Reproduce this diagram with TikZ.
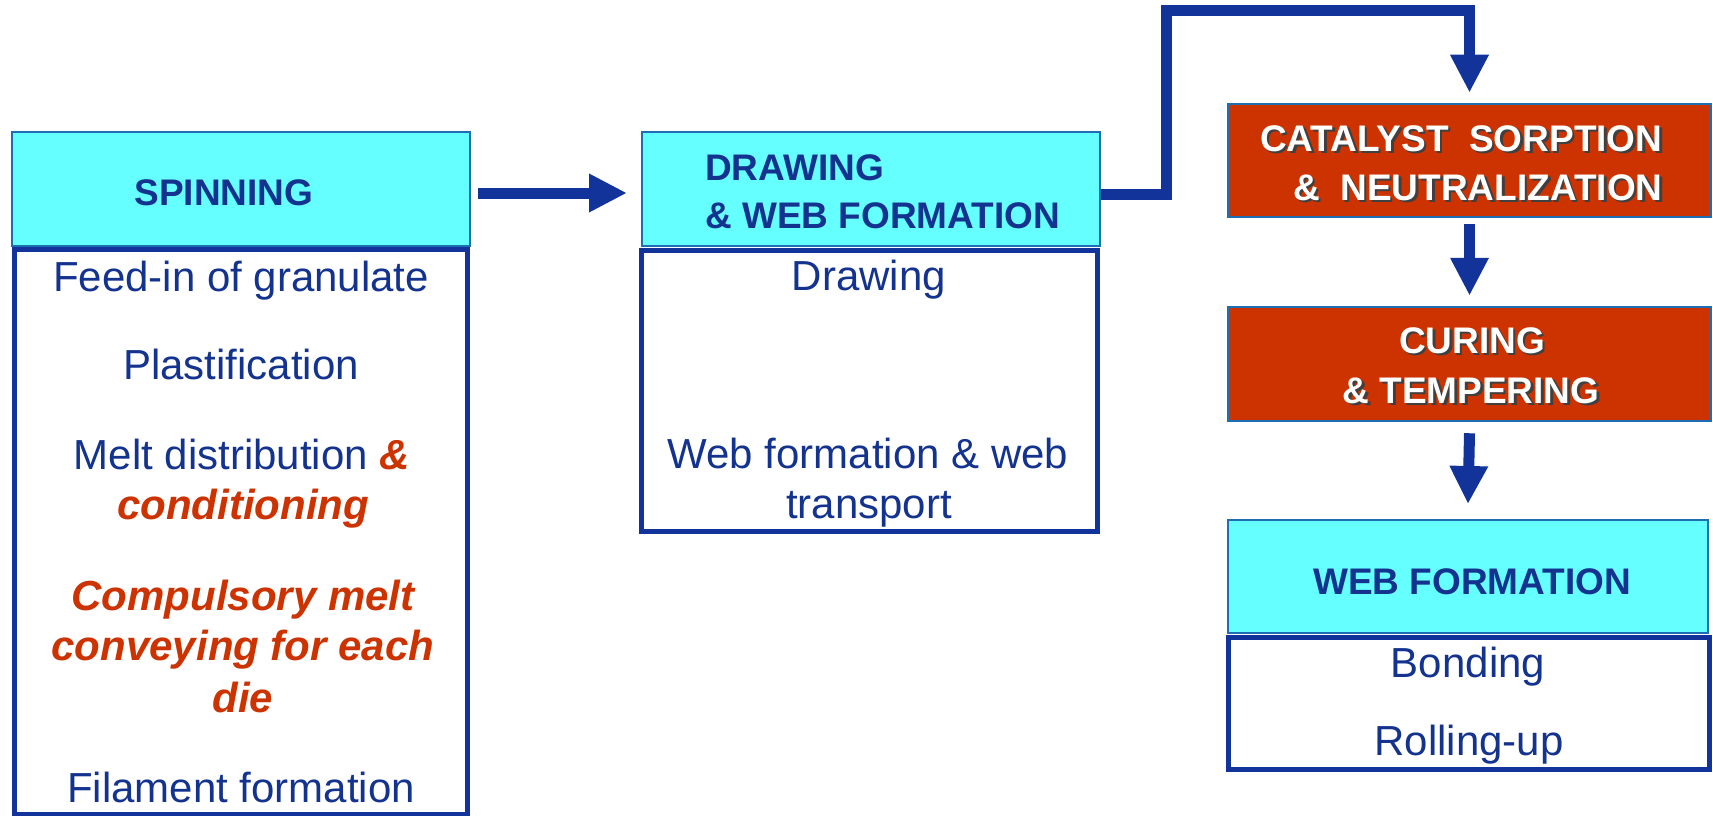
\documentclass[tikz,border=0pt]{standalone}
\usepackage{fontspec}
\setmainfont{Liberation Sans}[Ligatures=NoCommon]
\usetikzlibrary{arrows.meta}
\definecolor{cyanfill}{HTML}{66FFFF}
\definecolor{hdrline}{HTML}{1E6EB4}
\definecolor{bodyline}{HTML}{12339A}
\definecolor{textblue}{HTML}{14338F}
\definecolor{redtext}{HTML}{CC3300}
\definecolor{redfill}{HTML}{CC3300}
\definecolor{arrowblue}{HTML}{12339A}
\tikzset{
  hdrbox/.style={draw=hdrline, fill=cyanfill, line width=2pt, inner sep=0pt},
  bodybox/.style={draw=bodyline, fill=white, line width=5pt, inner sep=0pt},
  redbox/.style={draw=hdrline, fill=redfill, line width=2.5pt, inner sep=0pt},
  flow/.style={draw=arrowblue, line width=11pt, line join=miter,
    -{Triangle[length=38pt,width=36pt]}},
  bodytxt/.style={text=textblue, font=\fontsize{42}{50}\selectfont, anchor=base, inner sep=0pt},
  redtxt/.style={text=redtext, font=\fontsize{42}{50}\selectfont\bfseries\itshape, anchor=base, inner sep=0pt},
  hdrtxt/.style={text=textblue, font=\fontsize{37}{48}\selectfont\bfseries, anchor=base, inner sep=0pt},
  whitetxt/.style={text=white, font=\fontsize{37}{48}\selectfont\bfseries, inner sep=0pt},
  shadowtxt/.style={text=black!75, font=\fontsize{37}{48}\selectfont\bfseries, inner sep=0pt},
}
\begin{document}
\begin{tikzpicture}[x=1pt,y=-1pt]
\useasboundingbox (0,0) rectangle (1713,816);

% ---- Spinning column ----
\node[bodybox, minimum width=453pt, minimum height=564.5pt] (spb) at (240.5,531.75) {};
\node[hdrbox, minimum width=458pt, minimum height=114pt] (sph) at (241,189) {};
\node[hdrtxt] (spt) at (224,205) {SPINNING};
\node[bodytxt] (s1) at (241,291) {Feed-in of granulate};
\node[bodytxt] (s2) at (241,379) {Plastification};
\node[bodytxt] (s3) at (242,469) {Melt distribution {\color{redtext}\bfseries\itshape\&}};
\node[redtxt] (s4) at (243,519) {conditioning};
\node[redtxt] (s5) at (243,610) {Compulsory melt};
\node[redtxt] (s6) at (243,660) {conveying for each};
\node[redtxt] (s7) at (243,712) {die};
\node[bodytxt] (s8) at (241,802) {Filament formation};

% ---- Drawing column ----
\node[bodybox, minimum width=456pt, minimum height=281pt] (drb) at (869,390.5) {};
\node[hdrbox, minimum width=458pt, minimum height=114pt] (drh) at (871,189) {};
\node[hdrtxt, anchor=base west] (dt1) at (705,180) {DRAWING};
\node[hdrtxt, anchor=base west] (dt2) at (705,228) {\& WEB FORMATION};
\node[bodytxt] (d1) at (869,290) {Drawing};
\node[bodytxt] (d2) at (868,468) {Web formation \& web};
\node[bodytxt] (d3) at (869,518) {transport};

% ---- Right column ----
\node[redbox, minimum width=483pt, minimum height=113pt] (cat) at (1469.5,160.5) {};
\node[shadowtxt, anchor=base west] (c1s) at (1262.5,153.5) {CATALYST\ \ SORPTION};
\node[whitetxt, anchor=base west] (c1) at (1260,151) {CATALYST\ \ SORPTION};
\node[shadowtxt, anchor=base west] (c2s) at (1295.5,202.5) {\&\ \ NEUTRALIZATION};
\node[whitetxt, anchor=base west] (c2) at (1293,200) {\&\ \ NEUTRALIZATION};

\node[redbox, minimum width=483pt, minimum height=114pt] (cur) at (1469.5,364) {};
\node[shadowtxt, anchor=base] (u1s) at (1474.5,355.5) {CURING};
\node[whitetxt, anchor=base] (u1) at (1472,353) {CURING};
\node[shadowtxt, anchor=base] (u2s) at (1473.5,405.5) {\& TEMPERING};
\node[whitetxt, anchor=base] (u2) at (1471,403) {\& TEMPERING};

\node[bodybox, minimum width=481pt, minimum height=132pt] (wfb) at (1468.5,703.5) {};
\node[hdrbox, minimum width=480pt, minimum height=113pt] (wfh) at (1468,576.5) {};
\node[hdrtxt] (wft) at (1472,594) {WEB FORMATION};
\node[bodytxt] (w1) at (1468,677) {Bonding};
\node[bodytxt] (w2) at (1469,755) {Rolling-up};

% ---- Connectors ----
\coordinate (top) at (1166,11);
\draw[flow] ([xshift=7pt,yshift=-4pt]sph.east) -- ([xshift=-14pt,yshift=-4pt]drh.west);
\draw[flow] ([yshift=-5pt]drh.east) -| (top) -| ([yshift=10pt]cat.north);
\draw[flow] ([yshift=-6pt]cat.south) -- ([yshift=10pt]cur.north);
\draw[flow] ([yshift=-11pt]cur.south) -- ([yshift=15pt]wfh.north);
\end{tikzpicture}
\end{document}
